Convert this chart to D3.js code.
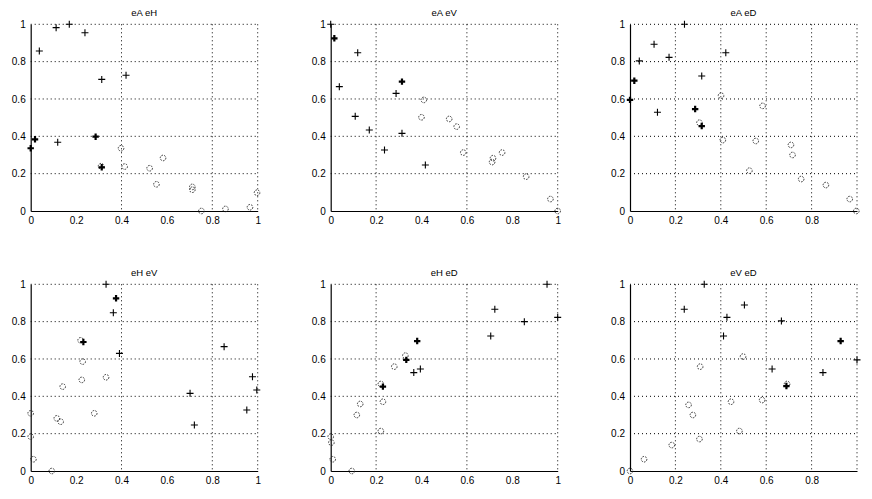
<!DOCTYPE html>
<html><head><meta charset="utf-8">
<script src="https://cdn.jsdelivr.net/npm/d3@7"></script>
<style>
body{margin:0;background:#fff;}
svg{display:block;}
text{font-family:"Liberation Sans Narrow","Liberation Sans",Arial,sans-serif;fill:#000;}
</style></head><body>
<svg id="c" width="872" height="499"></svg>
<script>
const titles = ["eA eH","eA eV","eA eD","eH eV","eH eD","eV eD"];
const xTicks = [[0,0.2,0.4,0.6,0.8,1],[0,0.2,0.4,0.6,0.8,1],[0,0.2,0.4,0.6,0.8],
                [0,0.2,0.4,0.6,0.8,1],[0,0.2,0.4,0.6,0.8,1],[0,0.2,0.4,0.6,0.8]];
const yTicks = [0,0.2,0.4,0.6,0.8,1];
const xGrid = [[0.4,0.8],[0.2,0.6],[0.2,0.4,0.6,0.8],[0.4,0.8],[0.2,0.6],[0.2,0.4,0.6,0.8]];
const yGrid = [0.2,0.4,0.6,0.8,1];

// plus markers [x,y]
const plus1 = [[0.038,0.857],[0.112,0.982],[0.170,1.0],[0.239,0.955],[0.313,0.705],[0.420,0.727],[0.119,0.368]];
const plus2 = [[0,1],[0.119,0.848],[0.038,0.666],[0.108,0.507],[0.170,0.434],[0.237,0.327],[0.288,0.630],[0.314,0.416],[0.417,0.246]];
const plus3 = [[0.240,1.0],[0.106,0.893],[0.172,0.823],[0.041,0.804],[0.422,0.848],[0.121,0.529],[0.316,0.723]];
const plus4 = [[0.332,1.0],[0.364,0.848],[0.391,0.630],[0.702,0.416],[0.852,0.666],[0.977,0.505],[0.996,0.434],[0.952,0.327],[0.721,0.246]];
const plus5 = [[0.953,1.0],[0.723,0.866],[0.853,0.8],[1.0,0.823],[0.705,0.723],[0.366,0.527],[0.395,0.546]];
const plus6 = [[0.327,1.0],[0.239,0.866],[0.504,0.889],[0.427,0.823],[0.412,0.723],[0.667,0.804],[1.0,0.595],[0.626,0.546],[0.85,0.527]];
// heavy (overlapping) plus markers
const heavy1 = [[0,0.336],[0.019,0.384],[0.286,0.398],[0.313,0.234]];
const heavy2 = [[0.016,0.925],[0.314,0.693]];
const heavy3 = [[0.019,0.698],[0,0.595],[0.287,0.546],[0.316,0.455]];
const heavy4 = [[0.376,0.925],[0.232,0.691]];
const heavy5 = [[0.381,0.696],[0.333,0.595],[0.230,0.452]];
const heavy6 = [[0.928,0.696],[0.689,0.455]];
// circle markers
const circ1 = [[0.398,0.336],[0.414,0.238],[0.524,0.229],[0.583,0.284],[0.554,0.143],[0.712,0.129],[0.712,0.114],[0.752,0],[0.858,0.011],[0.966,0.02],[0.997,0.098],[0.31,0.24]];
const circ2 = [[0.41,0.595],[0.40,0.502],[0.522,0.493],[0.555,0.452],[0.584,0.313],[0.711,0.262],[0.715,0.283],[0.755,0.313],[0.861,0.184],[0.968,0.064],[1.0,0]];
const circ3 = [[0.401,0.618],[0.409,0.380],[0.584,0.563],[0.554,0.375],[0.526,0.216],[0.709,0.354],[0.716,0.3],[0.754,0.171],[0.863,0.139],[0.968,0.064],[0.997,0],[0.306,0.473]];
const circ4 = [[0,0.309],[0,0.184],[0.012,0.063],[0.093,0],[0.115,0.282],[0.132,0.264],[0.141,0.452],[0.229,0.586],[0.225,0.488],[0.280,0.309],[0.332,0.502],[0.22,0.70]];
const circ5 = [[0.28,0.559],[0.329,0.618],[0.221,0.466],[0.230,0.371],[0.221,0.214],[0.13,0.359],[0.115,0.3],[0,0.184],[0.003,0.152],[0.009,0.063],[0.093,0]];
const circ6 = [[0.498,0.613],[0.309,0.559],[0.692,0.466],[0.445,0.371],[0.582,0.380],[0.258,0.354],[0.277,0.3],[0.482,0.214],[0.306,0.171],[0.184,0.139],[0.062,0.063],[0,0]];

const pluses = [plus1,plus2,plus3,plus4,plus5,plus6];
const heavies = [heavy1,heavy2,heavy3,heavy4,heavy5,heavy6];
const circles = [circ1,circ2,circ3,circ4,circ5,circ6];

const svg = d3.select("#c");
const lefts = [30.7, 330.7, 630];
const tops = [24.3, 284.3];
const W = 227, H = 186.7;

for (let i = 0; i < 6; i++) {
  const L = lefts[i % 3], T = tops[Math.floor(i / 3)];
  const g = svg.append("g").attr("transform", `translate(${L},${T})`);
  const x = d3.scaleLinear().domain([0,1]).range([0,W]);
  const y = d3.scaleLinear().domain([0,1]).range([H,0]);

  // grid
  g.selectAll(".gx").data(xGrid[i].concat([1])).join("line")
    .attr("x1", d => x(d)).attr("x2", d => x(d)).attr("y1", 0).attr("y2", H)
    .attr("stroke", "#000").attr("stroke-width", 1).attr("stroke-dasharray", "1,3");
  g.selectAll(".gy").data(yGrid).join("line")
    .attr("y1", d => y(d)).attr("y2", d => y(d)).attr("x1", 0).attr("x2", W)
    .attr("stroke", "#000").attr("stroke-width", 1).attr("stroke-dasharray", "1,3");

  // axes
  const ax = g.append("g").attr("transform", `translate(0,${H})`)
    .call(d3.axisBottom(x).tickValues(xTicks[i]).tickSize(0).tickPadding(6).tickFormat(d3.format("~g")));
  const ay = g.append("g")
    .call(d3.axisLeft(y).tickValues(yTicks).tickSize(0).tickPadding(5).tickFormat(d3.format("~g")));
  [ax, ay].forEach(a => {
    a.select(".domain").attr("stroke", "#000").attr("stroke-width", 1.2);
    a.selectAll("text").attr("font-size", 10).attr("fill", "#000")
      .attr("font-family", '"Liberation Sans Narrow","Liberation Sans",Arial,sans-serif');
  });

  // title
  g.append("text").attr("x", W / 2).attr("y", -8).attr("text-anchor", "middle")
    .attr("font-size", 9.5).text(titles[i]);

  // circles
  g.selectAll(".c").data(circles[i]).join("circle")
    .attr("cx", d => x(d[0])).attr("cy", d => y(d[1])).attr("r", 2.8)
    .attr("fill", "none").attr("stroke", "#222").attr("stroke-width", 0.9)
    .attr("stroke-dasharray", "1.6,1.2");

  // pluses
  const plusPath = (d, s) => `M${x(d[0]) - s},${y(d[1])}h${2 * s}M${x(d[0])},${y(d[1]) - s}v${2 * s}`;
  g.selectAll(".p").data(pluses[i]).join("path")
    .attr("d", d => plusPath(d, 3.5)).attr("stroke", "#000").attr("stroke-width", 1.1).attr("fill", "none");
  g.selectAll(".h").data(heavies[i]).join("path")
    .attr("d", d => plusPath(d, 3.2)).attr("stroke", "#000").attr("stroke-width", 2.2).attr("fill", "none");
}
</script>
</body></html>
